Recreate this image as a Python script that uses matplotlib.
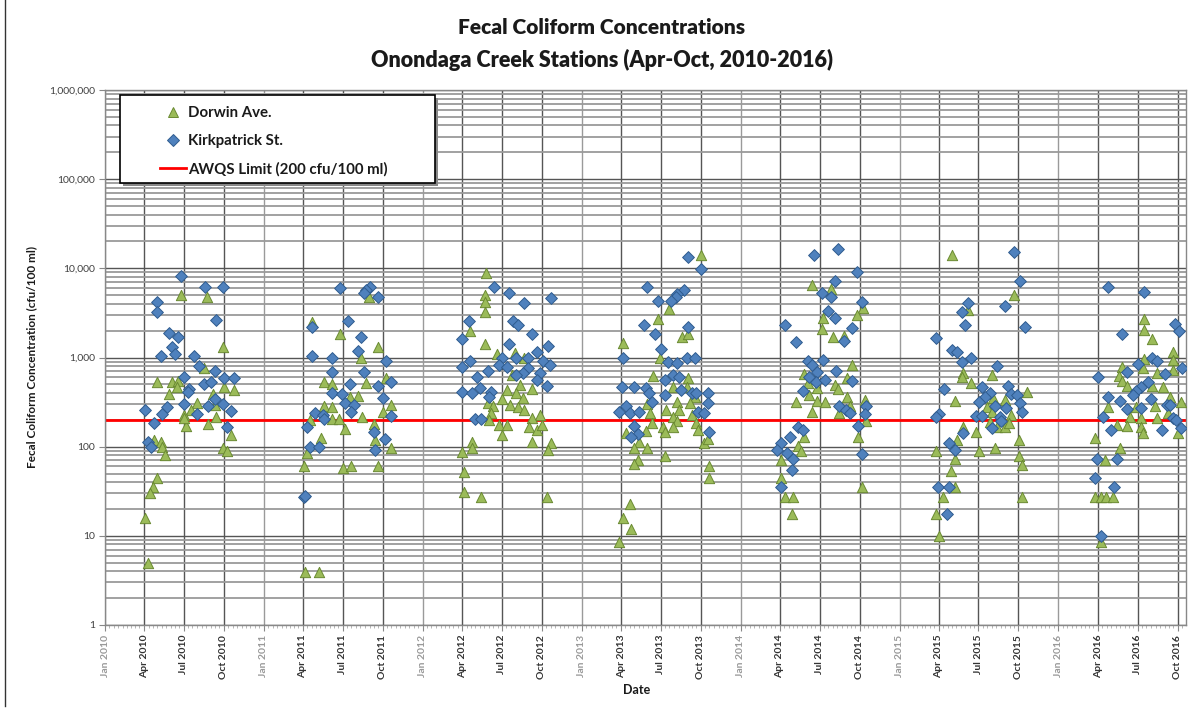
import numpy as np
import pandas as pd
import matplotlib
matplotlib.use('Agg')
import matplotlib.pyplot as plt
import matplotlib.dates as mdates
from matplotlib.ticker import LogLocator, FuncFormatter, NullFormatter, FixedLocator
from matplotlib.lines import Line2D
from matplotlib.patches import Rectangle

plt.rcParams['font.family'] = ['Lato', 'DejaVu Sans']

# ---------------- data (decimal year, cfu/100 ml) ----------------
dorwin_t_2010 = [2010.48, 2010.64, 2010.74, 2010.33, 2010.42, 2010.46, 2010.45, 2010.40, 2010.62, 2010.68,
                 2010.58, 2010.54, 2010.69, 2010.70, 2010.50, 2010.51, 2010.65, 2010.75, 2010.81, 2010.79,
                 2010.74, 2010.77, 2010.31, 2010.35, 2010.36, 2010.38, 2010.33, 2010.30, 2010.28, 2010.25,
                 2010.27, 2010.50]
dorwin_v_2010 = [5000, 4800, 1300, 530, 530, 545, 465, 390, 760, 390,
                 310, 255, 295, 215, 227, 170, 180, 465, 430, 134,
                 97, 89, 119, 112, 99, 81, 44, 35, 30, 16,
                 5, 210]
kirk_t_2010 = [2010.48, 2010.63, 2010.74, 2010.33, 2010.33, 2010.70, 2010.40, 2010.46, 2010.42, 2010.44,
               2010.35, 2010.56, 2010.59, 2010.69, 2010.50, 2010.75, 2010.81, 2010.62, 2010.67, 2010.53,
               2010.52, 2010.69, 2010.50, 2010.65, 2010.74, 2010.39, 2010.58, 2010.79, 2010.36, 2010.25,
               2010.31, 2010.77, 2010.27, 2010.29]
kirk_v_2010 = [8200, 6200, 6200, 4200, 3200, 2600, 1900, 1700, 1300, 1100,
               1050, 1050, 800, 700, 600, 590, 590, 500, 530, 440,
               410, 340, 300, 285, 300, 277, 232, 250, 232, 255,
               183, 165, 112, 99]

dorwin_t_2011 = [2011.30, 2011.48, 2011.66, 2011.72, 2011.61, 2011.38, 2011.43, 2011.64, 2011.77, 2011.59,
                 2011.54, 2011.38, 2011.43, 2011.80, 2011.75, 2011.29, 2011.43, 2011.47, 2011.62, 2011.51,
                 2011.69, 2011.36, 2011.70, 2011.80, 2011.27, 2011.25, 2011.50, 2011.55, 2011.72, 2011.26,
                 2011.35]
dorwin_v_2011 = [2500, 1830, 4800, 1310, 980, 530, 500, 515, 590, 370,
                 360, 285, 277, 295, 245, 200, 203, 203, 215, 158,
                 180, 125, 119, 97, 85, 61, 57, 61, 61, 3.9,
                 3.9]
kirk_t_2011 = [2011.48, 2011.67, 2011.64, 2011.63, 2011.72, 2011.30, 2011.53, 2011.61, 2011.59, 2011.30,
               2011.43, 2011.77, 2011.43, 2011.63, 2011.54, 2011.72, 2011.80, 2011.43, 2011.49, 2011.75,
               2011.51, 2011.57, 2011.55, 2011.32, 2011.37, 2011.38, 2011.80, 2011.27, 2011.69, 2011.76,
               2011.29, 2011.35, 2011.70, 2011.25, 2011.26]
kirk_v_2011 = [6000, 6200, 5700, 5300, 4800, 2200, 2560, 1700, 1180, 1050,
               1000, 915, 690, 690, 500, 480, 530, 400, 390, 350,
               310, 295, 245, 240, 227, 203, 220, 165, 145, 122,
               99, 99, 92, 27, 28]

dorwin_t_2012 = [2012.40, 2012.39, 2012.39, 2012.39, 2012.30, 2012.39, 2012.47, 2012.58, 2012.64, 2012.56,
                 2012.61, 2012.69, 2012.53, 2012.59, 2012.63, 2012.50, 2012.41, 2012.55, 2012.60, 2012.64,
                 2012.44, 2012.43, 2012.42, 2012.74, 2012.69, 2012.67, 2012.72, 2012.75, 2012.48, 2012.53,
                 2012.50, 2012.69, 2012.31, 2012.31, 2012.81, 2012.79, 2012.25, 2012.26, 2012.26, 2012.37,
                 2012.78]
dorwin_v_2012 = [8900, 5000, 4200, 3200, 1980, 1420, 1090, 1110, 980, 640,
                 490, 440, 430, 400, 350, 340, 310, 295, 277, 255,
                 285, 240, 200, 227, 210, 165, 154, 175, 175, 175,
                 134, 112, 112, 97, 110, 92, 88, 52, 31, 27,
                 27]
kirk_t_2012 = [2012.45, 2012.54, 2012.64, 2012.81, 2012.29, 2012.57, 2012.60, 2012.25, 2012.69, 2012.54,
               2012.79, 2012.72, 2012.30, 2012.25, 2012.50, 2012.59, 2012.66, 2012.76, 2012.48, 2012.53,
               2012.80, 2012.41, 2012.66, 2012.63, 2012.59, 2012.74, 2012.34, 2012.72, 2012.78, 2012.36,
               2012.25, 2012.31, 2012.43, 2012.42, 2012.33, 2012.37]
kirk_v_2012 = [6200, 5300, 4100, 4650, 2560, 2560, 2320, 1610, 1830, 1420,
               1340, 1140, 915, 780, 980, 1000, 1000, 915, 820, 780,
               820, 700, 760, 670, 640, 670, 600, 560, 480, 455,
               410, 400, 410, 360, 203, 203]

dorwin_t_2013 = [2013.75, 2013.55, 2013.48, 2013.63, 2013.67, 2013.26, 2013.49, 2013.45, 2013.67, 2013.57,
                 2013.66, 2013.71, 2013.68, 2013.60, 2013.41, 2013.53, 2013.61, 2013.43, 2013.69, 2013.57,
                 2013.51, 2013.44, 2013.72, 2013.60, 2013.28, 2013.40, 2013.52, 2013.57, 2013.73, 2013.36,
                 2013.33, 2013.41, 2013.77, 2013.79, 2013.52, 2013.35, 2013.33, 2013.80, 2013.80, 2013.30,
                 2013.26, 2013.31, 2013.23]
dorwin_v_2013 = [14000, 3500, 2700, 1700, 1830, 1460, 1000, 620, 590, 465,
                 465, 360, 310, 320, 300, 255, 255, 240, 227, 215,
                 165, 183, 183, 193, 141, 150, 145, 165, 154, 112,
                 97, 97, 110, 122, 79, 71, 64, 61, 44, 23,
                 16, 12, 8.5]
kirk_t_2013 = [2013.67, 2013.75, 2013.41, 2013.64, 2013.60, 2013.59, 2013.56, 2013.48, 2013.39, 2013.67,
               2013.46, 2013.50, 2013.26, 2013.66, 2013.71, 2013.54, 2013.60, 2013.57, 2013.61, 2013.52,
               2013.25, 2013.33, 2013.40, 2013.42, 2013.62, 2013.69, 2013.72, 2013.79, 2013.52, 2013.44,
               2013.79, 2013.28, 2013.23, 2013.30, 2013.36, 2013.73, 2013.77, 2013.33, 2013.35, 2013.31,
               2013.80]
kirk_v_2013 = [13300, 9800, 6200, 5700, 5200, 4800, 4300, 4300, 2320, 2200,
               1830, 1250, 1000, 1000, 980, 890, 870, 640, 600, 560,
               465, 465, 455, 400, 430, 400, 400, 400, 380, 320,
               310, 285, 245, 240, 245, 245, 240, 170, 138, 128,
               145]

dorwin_t_2014 = [2014.45, 2014.57, 2014.77, 2014.52, 2014.73, 2014.51, 2014.58, 2014.65, 2014.70, 2014.40,
                 2014.67, 2014.42, 2014.59, 2014.61, 2014.48, 2014.43, 2014.67, 2014.35, 2014.48, 2014.53,
                 2014.78, 2014.69, 2014.45, 2014.62, 2014.79, 2014.40, 2014.74, 2014.36, 2014.38, 2014.25,
                 2014.25, 2014.28, 2014.33, 2014.32, 2014.76]
dorwin_v_2014 = [6500, 5800, 3600, 2770, 3000, 2080, 1700, 1750, 820, 650,
                 590, 515, 490, 440, 455, 380, 360, 320, 325, 320,
                 330, 285, 245, 240, 193, 128, 128, 103, 89, 71,
                 45, 27, 27, 17.6, 35]
kirk_t_2014 = [2014.61, 2014.46, 2014.73, 2014.59, 2014.51, 2014.57, 2014.76, 2014.55, 2014.59, 2014.28,
               2014.70, 2014.65, 2014.35, 2014.42, 2014.52, 2014.45, 2014.48, 2014.60, 2014.43, 2014.47,
               2014.53, 2014.70, 2014.39, 2014.62, 2014.66, 2014.69, 2014.79, 2014.78, 2014.74, 2014.36,
               2014.39, 2014.31, 2014.25, 2014.23, 2014.29, 2014.33, 2014.76, 2014.32, 2014.25]
kirk_v_2014 = [16400, 14000, 9100, 7200, 5300, 4800, 4170, 3300, 2770, 2320,
               2140, 1530, 1490, 915, 935, 820, 690, 700, 600, 530,
               560, 545, 420, 285, 255, 240, 285, 232, 170, 165,
               154, 128, 110, 92, 85, 73, 83, 55, 35]

dorwin_t_2015 = [2015.33, 2015.72, 2015.43, 2015.40, 2015.39, 2015.58, 2015.45, 2015.80, 2015.35, 2015.59,
                 2015.55, 2015.66, 2015.58, 2015.70, 2015.57, 2015.61, 2015.66, 2015.69, 2015.48, 2015.40,
                 2015.36, 2015.75, 2015.60, 2015.50, 2015.23, 2015.75, 2015.77, 2015.35, 2015.32, 2015.35,
                 2015.27, 2015.77, 2015.23, 2015.25]
dorwin_v_2015 = [14000, 5000, 3400, 670, 600, 640, 515, 410, 325, 350,
                 277, 330, 245, 227, 190, 165, 165, 183, 145, 165,
                 119, 119, 97, 89, 89, 79, 62, 73, 53, 35,
                 27, 27, 17.5, 10]
kirk_t_2015 = [2015.72, 2015.76, 2015.43, 2015.39, 2015.66, 2015.41, 2015.79, 2015.23, 2015.33, 2015.36,
               2015.45, 2015.39, 2015.61, 2015.28, 2015.52, 2015.68, 2015.57, 2015.70, 2015.74, 2015.54,
               2015.50, 2015.76, 2015.60, 2015.67, 2015.77, 2015.25, 2015.23, 2015.48, 2015.52, 2015.63,
               2015.64, 2015.58, 2015.40, 2015.31, 2015.35, 2015.24, 2015.31, 2015.30]
kirk_v_2015 = [15300, 7200, 4080, 3220, 3780, 2320, 2200, 1650, 1210, 1140,
               980, 890, 800, 440, 465, 480, 400, 390, 380, 360,
               320, 310, 285, 270, 245, 232, 215, 220, 220, 215,
               193, 162, 141, 110, 92, 35, 35, 17.5]

dorwin_t_2016 = [2016.54, 2016.54, 2016.59, 2016.72, 2016.72, 2016.54, 2016.40, 2016.53, 2016.72, 2016.38,
                 2016.40, 2016.43, 2016.59, 2016.66, 2016.62, 2016.70, 2016.77, 2016.31, 2016.49, 2016.61,
                 2016.69, 2016.52, 2016.62, 2016.45, 2016.37, 2016.43, 2016.52, 2016.53, 2016.75, 2016.23,
                 2016.39, 2016.29, 2016.23, 2016.27, 2016.30, 2016.34, 2016.27]
dorwin_v_2016 = [2700, 2030, 1610, 1140, 935, 960, 780, 760, 720, 620,
                 545, 480, 480, 465, 670, 360, 315, 277, 277, 285,
                 240, 210, 210, 215, 175, 170, 165, 141, 141, 125,
                 97, 71, 27, 27, 27, 27, 8.5]
kirk_t_2016 = [2016.31, 2016.54, 2016.73, 2016.76, 2016.40, 2016.59, 2016.62, 2016.50, 2016.78, 2016.43,
               2016.67, 2016.25, 2016.56, 2016.52, 2016.49, 2016.47, 2016.31, 2016.58, 2016.39, 2016.68,
               2016.70, 2016.43, 2016.52, 2016.28, 2016.72, 2016.74, 2016.77, 2016.65, 2016.33, 2016.24,
               2016.37, 2016.23, 2016.35, 2016.27]
kirk_v_2016 = [6160, 5400, 2400, 1980, 1830, 1000, 915, 840, 760, 690,
               650, 600, 530, 465, 420, 380, 360, 340, 325, 295,
               295, 262, 270, 215, 210, 200, 162, 154, 154, 73,
               73, 44, 35, 10]

awqs_limit = 200
y_ticks = [1, 10, 100, 1000, 10000, 100000, 1000000]
title_lines = ["Fecal Coliform Concentrations", "Onondaga Creek Stations (Apr-Oct, 2010-2016)"]
series_labels = ["Dorwin Ave.", "Kirkpatrick St.", "AWQS Limit (200 cfu/100 ml)"]

dorwin_t = (dorwin_t_2010 + dorwin_t_2011 + dorwin_t_2012 + dorwin_t_2013
            + dorwin_t_2014 + dorwin_t_2015 + dorwin_t_2016)
dorwin_v = (dorwin_v_2010 + dorwin_v_2011 + dorwin_v_2012 + dorwin_v_2013
            + dorwin_v_2014 + dorwin_v_2015 + dorwin_v_2016)
kirk_t = (kirk_t_2010 + kirk_t_2011 + kirk_t_2012 + kirk_t_2013
          + kirk_t_2014 + kirk_t_2015 + kirk_t_2016)
kirk_v = (kirk_v_2010 + kirk_v_2011 + kirk_v_2012 + kirk_v_2013
          + kirk_v_2014 + kirk_v_2015 + kirk_v_2016)


def to_dates(decimal_years):
    out = []
    for y in decimal_years:
        yr = int(np.floor(y))
        out.append(pd.Timestamp(yr, 1, 1) + pd.Timedelta(days=(y - yr) * 365.25))
    return out


W, H = 1190, 713
fig = plt.figure(figsize=(W / 100, H / 100), dpi=100)
fig.patch.set_facecolor('white')

L, R, T, B = 105, 1186, 90, 625
ax = fig.add_axes([L / W, 1 - B / H, (R - L) / W, (B - T) / H])

GREEN = '#9BBB59'
GREEN_E = '#6A8A32'
BLUE = '#4F81BD'
BLUE_E = '#2F5C8F'

ax.axhline(awqs_limit, color='#FF0000', lw=2.0, zorder=2)
ax.scatter(to_dates(dorwin_t), dorwin_v, marker='^', s=55, c=GREEN,
           edgecolors=GREEN_E, linewidths=0.7, zorder=3)
ax.scatter(to_dates(kirk_t), kirk_v, marker='D', s=36, c=BLUE,
           edgecolors=BLUE_E, linewidths=0.7, zorder=4)

ax.set_yscale('log')
ax.set_ylim(1, 1e6)
ax.set_xlim(pd.Timestamp('2010-01-01'), pd.Timestamp('2016-10-20'))

tick_dates = pd.date_range('2010-01-01', '2016-10-01', freq='QS')
ax.xaxis.set_major_locator(FixedLocator(mdates.date2num(tick_dates)))
ax.set_xticklabels([d.strftime('%b %Y') for d in tick_dates], rotation=90,
                   fontsize=7.5, fontweight='bold')
ax.xaxis.set_minor_locator(mdates.DayLocator(bymonthday=[1, 11, 21]))

ax.yaxis.set_major_locator(FixedLocator(y_ticks))
ax.yaxis.set_minor_locator(LogLocator(base=10, subs=np.arange(2, 10), numticks=100))
ax.yaxis.set_major_formatter(FuncFormatter(lambda v, p: f'{int(round(v)):,}'))
ax.yaxis.set_minor_formatter(NullFormatter())

ax.set_axisbelow(True)
ax.grid(which='major', axis='x', color='#555555', lw=1.0)
ax.grid(which='major', axis='y', color='#555555', lw=1.0)
ax.grid(which='minor', axis='y', color='#9a9a9a', lw=1.3)

for lab, d in zip(ax.get_xticklabels(), tick_dates):
    lab.set_color('#999999' if d.month == 1 else '#333333')
for gl, d in zip(ax.get_xgridlines(), tick_dates):
    gl.set_color('#9a9a9a' if d.month == 1 else '#555555')

ax.tick_params(axis='x', which='major', length=4, color='#888888', pad=3)
ax.tick_params(axis='x', which='minor', length=2.5, color='#aaaaaa')
ax.tick_params(axis='y', which='major', length=4, color='#888888', labelsize=7.5,
               labelcolor='#404040', pad=3)
ax.tick_params(axis='y', which='minor', length=0)
for s in ax.spines.values():
    s.set_color('#888888')
    s.set_linewidth(1.0)

# titles and labels
fig.text(602 / W, 1 - 28 / H, title_lines[0], ha='center', va='center',
         fontsize=15, fontweight='heavy', color='#1a1a1a')
fig.text(602 / W, 1 - 60 / H, title_lines[1], ha='center', va='center',
         fontsize=15.5, fontweight='heavy', color='#1a1a1a')
fig.text(32 / W, 1 - 357 / H, 'Fecal Coliform Concentration (cfu/100 ml)', rotation=90,
         ha='center', va='center', fontsize=8.5, fontweight='bold', color='#1a1a1a')
fig.text(637 / W, 1 - 690 / H, 'Date', ha='center', va='center', fontsize=9,
         fontweight='bold', color='#1a1a1a')

# legend box with shadow
bx0, by0, bx1, by1 = 120, 95, 435, 183
fig.patches.append(Rectangle((bx0 / W + 3 / W, 1 - by1 / H - 3 / H), (bx1 - bx0) / W, (by1 - by0) / H,
                             transform=fig.transFigure, facecolor='#888888', edgecolor='none',
                             zorder=2))
fig.patches.append(Rectangle((bx0 / W, 1 - by1 / H), (bx1 - bx0) / W, (by1 - by0) / H,
                             transform=fig.transFigure, facecolor='white', edgecolor='black',
                             lw=1.2, zorder=3))
handles = [Line2D([], [], marker='^', ls='none', markersize=7.5, markerfacecolor=GREEN,
                  markeredgecolor=GREEN_E, markeredgewidth=0.7),
           Line2D([], [], marker='D', ls='none', markersize=6, markerfacecolor=BLUE,
                  markeredgecolor=BLUE_E, markeredgewidth=0.7),
           Line2D([], [], color='#FF0000', lw=2)]
leg = fig.legend(handles, series_labels, loc='upper left', bbox_to_anchor=(160 / W, 1 - 106 / H),
                 frameon=False, borderpad=0, borderaxespad=0, handlelength=1.75,
                 handletextpad=0.12, labelspacing=0.92,
                 prop={'weight': 'bold', 'size': 10.8})
leg.set_zorder(5)
for t in leg.get_texts():
    t.set_color('#1a1a1a')

# outer chart border (left edge)
fig.lines.append(Line2D([5 / W, 5 / W], [0.01, 1.0], transform=fig.transFigure,
                        color='#333333', lw=1.0))

fig.savefig('out.png', dpi=100)
